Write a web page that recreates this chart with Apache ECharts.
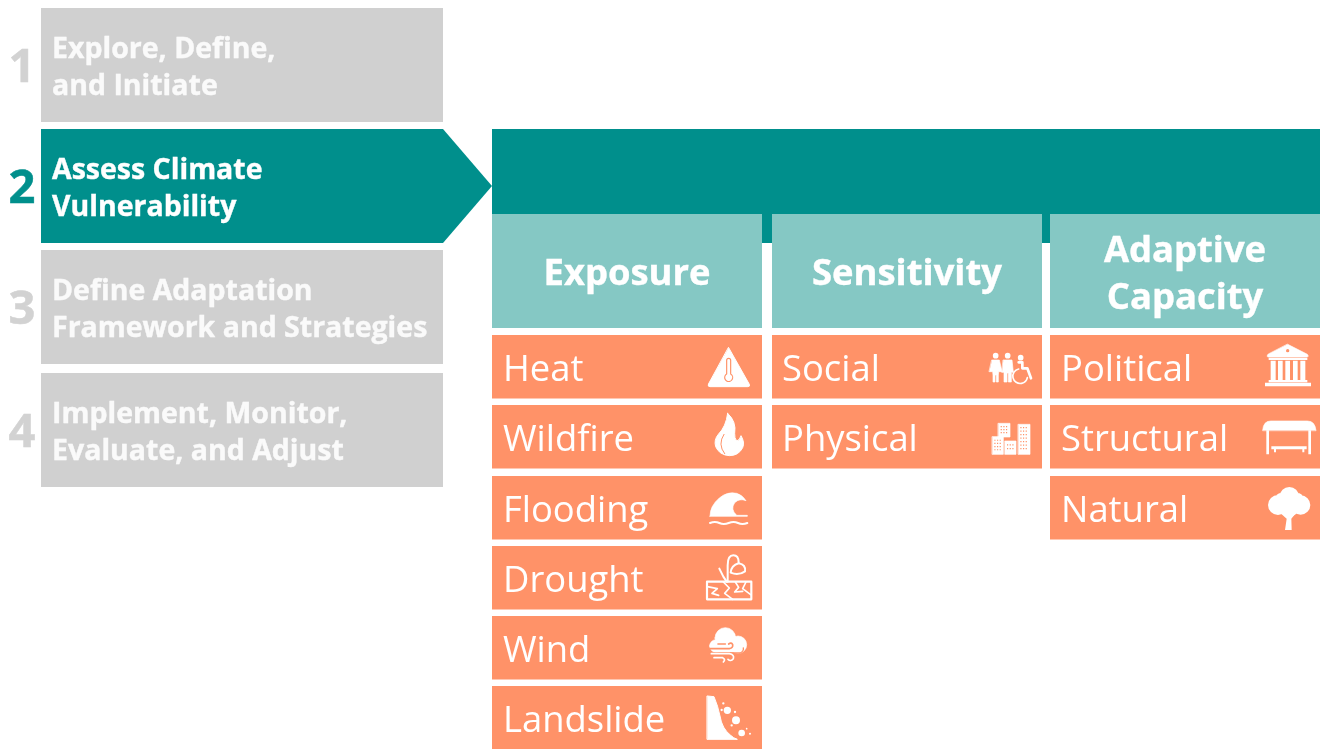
<!DOCTYPE html>
<html><head><meta charset="utf-8">
<style>html,body{margin:0;padding:0;background:#fff}#c{width:1320px;height:749px}</style>
<script src="https://cdn.jsdelivr.net/npm/echarts@6/dist/echarts.min.js"></script>
</head><body><div id="c"></div>
<script>
const stepNumbers = ['1','2','3','4'];
const stepLabels = ['Explore, Define,\nand Initiate','Assess Climate\nVulnerability','Define Adaptation\nFramework and Strategies','Implement, Monitor,\nEvaluate, and Adjust'];
const activeStep = 1;
const columnHeads = ['Exposure','Sensitivity','Adaptive\nCapacity'];
const exposureItems = ['Heat','Wildfire','Flooding','Drought','Wind','Landslide'];
const sensitivityItems = ['Social','Physical'];
const capacityItems = ['Political','Structural','Natural'];

const C = {gray:'#D0D0D0', grayText:'#FAFAFA', grayNum:'#D2D2D2', teal:'#008F8C', head:'#85C8C4', orange:'#FF9268', white:'#FFFFFF'};
const FONT = '"Open Sans","Noto Sans",sans-serif';
const stepTops = [8,129,250,373], stepH = 114, stepL = 41, stepR = 443;
const colL = [492,772,1050], colW = 270;
const rowTops = [335,405,476,546,616,686], rowH = 63.5;

function P(d,fill,stroke,lw){return {d,fill:fill||null,stroke:stroke||null,lw:lw||0};}
function circ(x,y,r){return `M${x-r} ${y}A${r} ${r} 0 1 1 ${x+r} ${y}A${r} ${r} 0 1 1 ${x-r} ${y}Z`;}
function rect(x0,y0,x1,y1){return `M${x0} ${y0}H${x1}V${y1}H${x0}Z`;}
function windows(x0,y0,cols,rows,dx,dy){let s='';for(let i=0;i<cols;i++)for(let j=0;j<rows;j++){s+=rect(x0+i*dx,y0+j*dy,x0+i*dx+3.5,y0+j*dy+3.5);}return s;}
const W=C.white,O=C.orange;
// icon glyphs: local outlines, drawn at 1/3 scale from the right end of each row
const icons = {
 Heat:[P('M116 38L178 148Q181 155 173 155L60 155Q52 155 55 148Z',W,W,3),
       P('M110 76A6 6 0 0 1 122 76V117A12 12 0 1 1 110 117Z',W,O,3.5)],
 Wildfire:[P('M113 25Q140 50 134 85Q133 100 140 108Q150 105 153 92Q165 112 158 128Q146 152 118 152Q88 150 77 125Q71 105 85 88Q108 65 113 25Z',W,W,3),
           P('M102 88Q82 118 104 146',null,O,3)],
 Flooding:[P('M60 120Q60 90 88 66Q112 46 140 52Q156 56 168 74Q148 66 134 80Q120 100 140 118L172 118V121H60Z',W,W,2),
           P('M60 127Q75 122 88 127T116 127T144 127T172 127',null,O,3),
           P('M60 141Q75 135 88 141T116 141T144 141T172 141',null,W,6)],
 Drought:[P(rect(51,107,184,160),null,W,6.5),
          P('M113 107V58Q113 28 130 28Q146 28 146 50',null,W,6),
          P('M122 80Q124 58 146 52Q168 56 165 76Q145 90 122 80Z',null,W,6),
          P('M88 68L100 92L110 107',null,W,6),
          P('M52 122L82 128L66 142L86 148M100 108L118 126L104 142L128 160M136 108L146 124L134 138L158 136M168 108L158 128L182 146',null,W,5)],
 Wind:[P(circ(78,90,19)+circ(106,66,31)+circ(144,86,26)+rect(78,80,144,108),W,W,2),
       P('M60 98H118Q130 96 128 86Q124 78 116 84M84 84H106',null,O,5),
       P('M60 111H150Q162 106 160 96',null,O,4),
       P('M64 113H118Q134 116 130 128Q122 138 114 130M72 125H98Q108 130 100 138',null,W,5)],
 Landslide:[P('M52 30L72 32Q84 60 90 90Q96 128 122 148Q130 156 142 160H52Z',W,W,3),
            P(circ(112,73,11)+circ(138,103,12)+circ(155,141,10)+circ(100,52,3.5)+circ(95,72,3.5)+circ(135,78,3.5)+circ(180,143,3)+circ(125,118,3.5)+circ(170,128,2.5),W)],
 Social:[P(circ(77,62,8.5)+circ(113,62,8.5)+circ(152,68,8.5),W),
         P('M66 75H88L96 110H86L85 120V141H79V120H75V141H69V120L68 110H58Z',W,W,2),
         P('M100 75H126L130 112H124V141H115V114H111V141H102V112H96Z',W,W,2),
         P('M146 82H157V100H172L183 130',null,W,8),
         P('M146 102A22 22 0 1 0 172 128',null,W,5)],
 Physical:[P(rect(85,55,120,96),W,W,2),P(rect(67,95,100,148),W,W,2),P(rect(105,108,138,148),W,W,2),P(rect(145,58,180,148),W,W,2),
           P(windows(92,63,3,3,8,9)+windows(73,104,3,4,8,9.5)+windows(111,118,3,2,8,11)+windows(151,66,3,7,8,10.5),O)],
 Political:[P('M113 28L172 58Q178 66 170 66H56Q48 66 54 58Z',W,W,2),P(circ(113,47,5),O),
            P(rect(56,68,172,75)+rect(62,77,77,135)+rect(84,77,98,135)+rect(106,77,120,135)+rect(129,77,143,135)+rect(151,77,166,135)+rect(56,135,172,142)+rect(45,143,183,154),W)],
 Structural:[P('M38 76Q40 48 62 48H172Q195 48 198 76Z',W,W,2),
             P(rect(49,76,57,148)+rect(175,76,183,148)+rect(64,124,170,133)+rect(72,132,78,142)+rect(157,132,163,142),W)],
 Natural:[P(circ(84,87,30)+circ(118,62,29)+circ(152,87,29)+circ(118,92,30)+circ(96,72,22)+circ(140,72,22),W),
          P('M105 162L110 128L90 110L98 104L114 116L134 100L142 106L124 128L125 162Z',W)]
};
const iconOrigin = [690,970,1250];
let shapeId = 0;
function iconShape(d){
  const name = 'iconPiece'+(shapeId++);
  echarts.graphic.registerShape(name, echarts.graphic.extendPath(d,{}));
  return name;
}

const els = [];
function box(x,y,w,h,fill){els.push({type:'rect',shape:{x,y,width:w,height:h},style:{fill},silent:true});}
function txt(x,y,text,size,weight,fill,align,lh,sw){els.push({type:'text',x,y,style:{text,font:`${weight} ${size}px ${FONT}`,fill,align:align||'left',verticalAlign:'middle',lineHeight:lh||undefined,stroke:sw?fill:undefined,lineWidth:sw||0},silent:true});}

stepLabels.forEach((label,i)=>{
  const t=stepTops[i], on=i===activeStep;
  if(on){els.push({type:'polygon',shape:{points:[[stepL,t],[stepR,t],[492,t+57],[stepR,t+stepH],[stepL,t+stepH]]},style:{fill:C.teal},silent:true});}
  else box(stepL,t,stepR-stepL,stepH,C.gray);
  txt(52,t+60,label,28.5,700,on?C.white:C.grayText,'left',37,0.4);
  txt(22,t+61,stepNumbers[i],47,700,on?C.teal:C.grayNum,'center',0,0.5);
});
box(492,129,828,114,C.teal);
[[exposureItems,0],[sensitivityItems,1],[capacityItems,2]].forEach(([items,c])=>{
  box(colL[c],214,colW,114,C.head);
  txt(colL[c]+colW/2,275,columnHeads[c],36.4,700,C.white,'center',47,0.4);
  items.forEach((name,r)=>{
    box(colL[c],rowTops[r],colW,rowH,C.orange);
    txt(colL[c]+(c===1?10:11),rowTops[r]+rowH/2+4,name,36.4,400,C.white);
    els.push({type:'group',x:iconOrigin[c],y:rowTops[r],scaleX:1/3,scaleY:1/3,silent:true,
      children:icons[name].map(p=>({type:iconShape(p.d),
        style:{fill:p.fill||'transparent',stroke:p.stroke||'transparent',lineWidth:p.lw,lineCap:'round',lineJoin:'round'},silent:true}))});
  });
});
const chart = echarts.init(document.getElementById('c'),null,{renderer:'canvas'});
chart.setOption({animation:false,backgroundColor:'#fff',graphic:{elements:els}});
</script></body></html>
